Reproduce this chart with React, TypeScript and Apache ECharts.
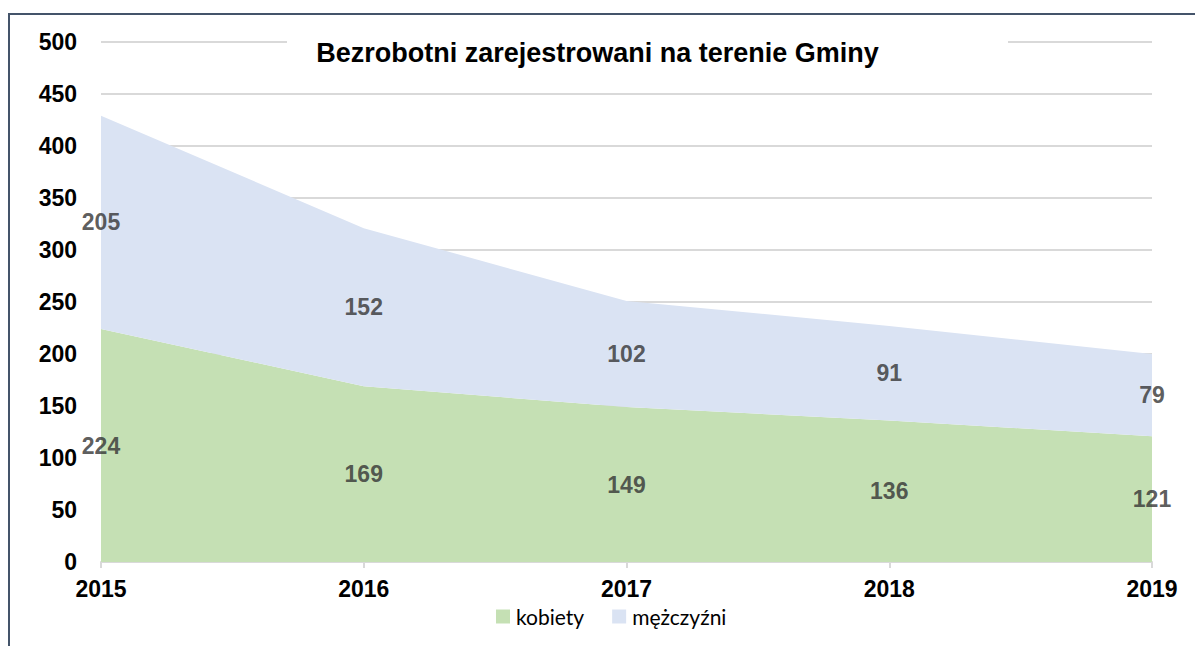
import React, { useEffect, useRef } from "react";
import * as echarts from "echarts";

const years = ["2015", "2016", "2017", "2018", "2019"];
const kobiety = [224, 169, 149, 136, 121];
const mezczyzni = [205, 152, 102, 91, 79];
const seriesNames = ["kobiety", "mężczyźni"];
const colors = ["#c5e0b4", "#dae3f3"];
const titleText = "Bezrobotni zarejestrowani na terenie Gminy";

const FONT = "'Liberation Sans', Arial, sans-serif";

export default function App() {
  const ref = useRef<HTMLDivElement>(null);
  useEffect(() => {
    if (!ref.current) return;
    const chart = echarts.init(ref.current, null, { renderer: "svg" });
    const labelStyle = {
      show: true,
      position: "inside",
      fontFamily: FONT,
      fontWeight: "bold",
      fontSize: 23,
      color: "#333333",
    };
    const kLabels = kobiety.map((v, i) => [i, v / 2, v]);
    const mLabels = mezczyzni.map((v, i) => [i, kobiety[i] + v / 2, v]);
    chart.setOption({
      animation: false,
      backgroundColor: "#fff",
      title: {
        text: titleText,
        left: "center",
        top: 39,
        padding: 0,
        textStyle: { fontFamily: FONT, fontWeight: "bold", fontSize: 27, color: "#000" },
        z: 10,
      },
      graphic: [
        {
          type: "rect",
          z: 5,
          shape: { x: 287, y: 30, width: 721, height: 24 },
          style: { fill: "#fff" },
        },
        {
          type: "polyline",
          z: 5,
          shape: { points: [[9, 700], [9, 14], [1200, 14]] },
          style: { stroke: "#44546a", lineWidth: 2, fill: "none" },
        },
      ],
      legend: {
        data: seriesNames,
        left: 491,
        top: 601,
        itemWidth: 14,
        itemHeight: 14,
        itemGap: 28,
        icon: "rect",
        textStyle: { fontFamily: "Lato, 'Open Sans', sans-serif", fontSize: 21, color: "#000", padding: [0, 0, 0, 1] },
      },
      grid: { left: 101, right: 43, top: 42, bottom: 84, containLabel: false },
      xAxis: {
        type: "category",
        data: years,
        boundaryGap: false,
        axisLine: { show: true, lineStyle: { color: "#d9d9d9", width: 2 } },
        axisTick: { show: true, length: 6, lineStyle: { color: "#d9d9d9", width: 2 } },
        axisLabel: { fontFamily: FONT, fontWeight: "bold", fontSize: 23, color: "#000", margin: 15 },
        splitLine: { show: false },
      },
      yAxis: {
        type: "value",
        min: 0,
        max: 500,
        interval: 50,
        axisLine: { show: false },
        axisTick: { show: false },
        axisLabel: { fontFamily: FONT, fontWeight: "bold", fontSize: 23, color: "#000", margin: 24 },
        splitLine: { lineStyle: { color: "#d9d9d9", width: 2 } },
      },
      series: [
        {
          name: seriesNames[0],
          type: "line",
          stack: "total",
          data: kobiety,
          symbol: "none",
          lineStyle: { width: 0 },
          itemStyle: { color: colors[0] },
          areaStyle: { color: colors[0], opacity: 1 },
        },
        {
          name: seriesNames[1],
          type: "line",
          stack: "total",
          data: mezczyzni,
          symbol: "none",
          lineStyle: { width: 0 },
          itemStyle: { color: colors[1] },
          areaStyle: { color: colors[1], opacity: 1 },
        },
        {
          name: "lk",
          type: "scatter",
          data: kLabels,
          symbolSize: 0,
          silent: true,
          z: 8,
          label: { ...labelStyle, formatter: (p: any) => String(p.value[2]) },
        },
        {
          name: "lm",
          type: "scatter",
          data: mLabels,
          symbolSize: 0,
          silent: true,
          z: 8,
          label: { ...labelStyle, formatter: (p: any) => String(p.value[2]) },
        },
      ],
    });
    return () => chart.dispose();
  }, []);
  return (
    <div
      ref={ref}
      style={{ position: "absolute", left: 0, top: 0, width: 1195, height: 646 }}
    />
  );
}
